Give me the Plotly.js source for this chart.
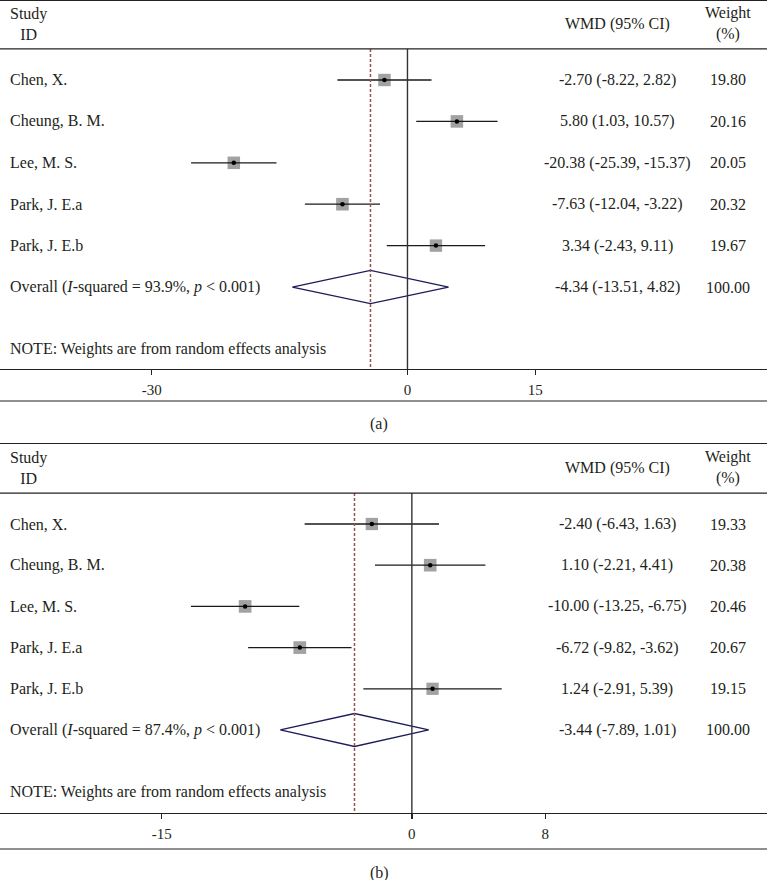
<!DOCTYPE html>
<html>
<head>
<meta charset="utf-8">
<script src="https://cdn.plot.ly/plotly-3.0.1.min.js"></script>
<style>html,body{margin:0;padding:0;background:#fff;}#chart{width:768px;height:880px;}</style>
</head>
<body>
<div id="chart"></div>
<script>
// ---------- data ----------
const studies = ["Chen, X.", "Cheung, B. M.", "Lee, M. S.", "Park, J. E.a", "Park, J. E.b"];

const estA = [-2.70, 5.80, -20.38, -7.63, 3.34];
const loA  = [-8.22, 1.03, -25.39, -12.04, -2.43];
const hiA  = [2.82, 10.57, -15.37, -3.22, 9.11];
const wA   = [19.80, 20.16, 20.05, 20.32, 19.67];
const overallA = [-4.34, -13.51, 4.82];   // est, lo, hi
const i2A = "93.9%";
const ticksA = [-30, 0, 15];

const estB = [-2.40, 1.10, -10.00, -6.72, 1.24];
const loB  = [-6.43, -2.21, -13.25, -9.82, -2.91];
const hiB  = [1.63, 4.41, -6.75, -3.62, 5.39];
const wB   = [19.33, 20.38, 20.46, 20.67, 19.15];
const overallB = [-3.44, -7.89, 1.01];
const i2B = "87.4%";
const ticksB = [-15, 0, 8];

const rows = [1, 2, 3, 4, 5];
const overallRow = 6;
const noteRow = 7.5;
const sepRow = 0.25;

// ---------- styling ----------
const FONT = "Liberation Serif, Times New Roman, serif";
const TXT = "#231f20";
const FS = 16;
const W = 768, H = 880;
const px = v => v / W;
const py = v => 1 - v / H;

const traces = [];
const annotations = [];
const shapes = [];

function panel(est, lo, hi, w, overall, i2, xa, ya, yRange, botLinePx, labelPx, label) {
  const xr = xa, yr = ya;
  // weighted boxes
  traces.push({type: 'scatter', mode: 'markers', x: est, y: rows, xaxis: xr, yaxis: yr,
    marker: {symbol: 'square', color: '#7b7b7b', size: w.map(v => 12.5 * Math.sqrt(v / 20)), line: {width: 0}},
    showlegend: false});
  // CI lines
  const lx = [], ly = [];
  rows.forEach((r, i) => { lx.push(lo[i], hi[i], null); ly.push(r, r, null); });
  traces.push({type: 'scatter', mode: 'lines', x: lx, y: ly, xaxis: xr, yaxis: yr,
    line: {color: '#1a1a1a', width: 1.3}, hoverinfo: 'skip', showlegend: false});
  // point estimate dots
  traces.push({type: 'scatter', mode: 'markers', x: est, y: rows, xaxis: xr, yaxis: yr,
    marker: {symbol: 'circle', color: '#000', size: 4.5}, showlegend: false});
  // overall diamond
  const h = 0.4;
  traces.push({type: 'scatter', mode: 'lines', xaxis: xr, yaxis: yr,
    x: [overall[1], overall[0], overall[2], overall[0], overall[1]],
    y: [overallRow, overallRow - h, overallRow, overallRow + h, overallRow],
    line: {color: '#1c1c5a', width: 1.3}, showlegend: false});

  // vertical zero line and dashed overall line
  shapes.push({type: 'line', xref: xr, yref: yr, x0: 0, x1: 0, y0: sepRow, y1: yRange[0],
    line: {color: '#333', width: 1.4}});
  shapes.push({type: 'line', xref: xr, yref: yr, x0: overall[0], x1: overall[0], y0: sepRow, y1: yRange[0],
    line: {color: '#9a5050', width: 1.5, dash: '3px,2px'}});
  // header separator
  shapes.push({type: 'line', xref: 'paper', yref: yr, x0: 0, x1: px(767), y0: sepRow, y1: sepRow,
    line: {color: '#222', width: 1.2}});
  // bottom line
  shapes.push({type: 'line', xref: 'paper', yref: 'paper', x0: 0, x1: px(767), y0: py(botLinePx), y1: py(botLinePx),
    line: {color: '#222', width: 1.2}});

  const ann = (x, y, text, xanchor, align) => annotations.push({
    xref: 'paper', yref: yr, x: x, y: y, text: text, showarrow: false,
    xanchor: xanchor, yanchor: 'middle', align: align || 'center',
    font: {family: FONT, size: FS, color: TXT}});

  // headers
  ann(px(8), -0.36, "Study<br>ID", 'left', 'center');
  ann(px(617), -0.36, "WMD (95% CI)", 'center');
  ann(px(728), -0.36, "Weight<br>(%)", 'center', 'center');
  // rows
  rows.forEach((r, i) => {
    ann(px(8), r, studies[i], 'left');
    ann(px(617), r, est[i].toFixed(2) + " (" + lo[i].toFixed(2) + ", " + hi[i].toFixed(2) + ")", 'center');
    ann(px(728), r, w[i].toFixed(2), 'center');
  });
  ann(px(8), overallRow, "Overall (<i>I</i>-squared = " + i2 + ", <i>p</i> &lt; 0.001)", 'left');
  ann(px(617), overallRow, overall[0].toFixed(2) + " (" + overall[1].toFixed(2) + ", " + overall[2].toFixed(2) + ")", 'center');
  ann(px(728), overallRow, (100).toFixed(2), 'center');
  ann(px(8), noteRow, "NOTE: Weights are from random effects analysis", 'left');

  // panel label
  annotations.push({xref: 'paper', yref: 'paper', x: px(379), y: py(labelPx), text: label,
    showarrow: false, xanchor: 'center', yanchor: 'middle',
    font: {family: FONT, size: FS, color: TXT}});
}

const yRangeA = [7.98, -0.908];
const yRangeB = [8.015, -0.942];
panel(estA, loA, hiA, wA, overallA, i2A, 'x', 'y', yRangeA, 401, 424, "(a)");
panel(estB, loB, hiB, wB, overallB, i2B, 'x2', 'y2', yRangeB, 849, 873, "(b)");

function xaxis(range, ticks, anchor) {
  return {range: range, domain: [0, px(767)], anchor: anchor,
    showgrid: false, zeroline: false, showline: true, mirror: true,
    linecolor: '#222', linewidth: 1.2,
    tickmode: 'array', tickvals: ticks, ticktext: ticks.map(String),
    ticks: 'outside', ticklen: 5, tickwidth: 1.3, tickcolor: '#222',
    ticklabelstandoff: 2,
    tickfont: {family: FONT, size: 15, color: TXT}, fixedrange: true, automargin: false};
}
function yaxis(range, anchor, topPx, botPx) {
  return {range: range, domain: [py(botPx), py(topPx)], anchor: anchor,
    showgrid: false, zeroline: false, showline: false, showticklabels: false, ticks: '',
    fixedrange: true, automargin: false};
}

const layout = {
  width: W, height: H,
  margin: {l: 0, r: 0, t: 0, b: 0},
  paper_bgcolor: '#fff', plot_bgcolor: '#fff',
  showlegend: false,
  xaxis: xaxis([-408 / 8.5333, (768 - 408) / 8.5333], ticksA, 'y'),
  yaxis: yaxis(yRangeA, 'x', 1, 369),
  xaxis2: xaxis([-412.4 / 16.696, (768 - 412.4) / 16.696], ticksB, 'y2'),
  yaxis2: yaxis(yRangeB, 'x2', 444, 813),
  shapes: shapes,
  annotations: annotations
};

Plotly.newPlot('chart', traces, layout, {staticPlot: true, displayModeBar: false});
</script>
</body>
</html>
